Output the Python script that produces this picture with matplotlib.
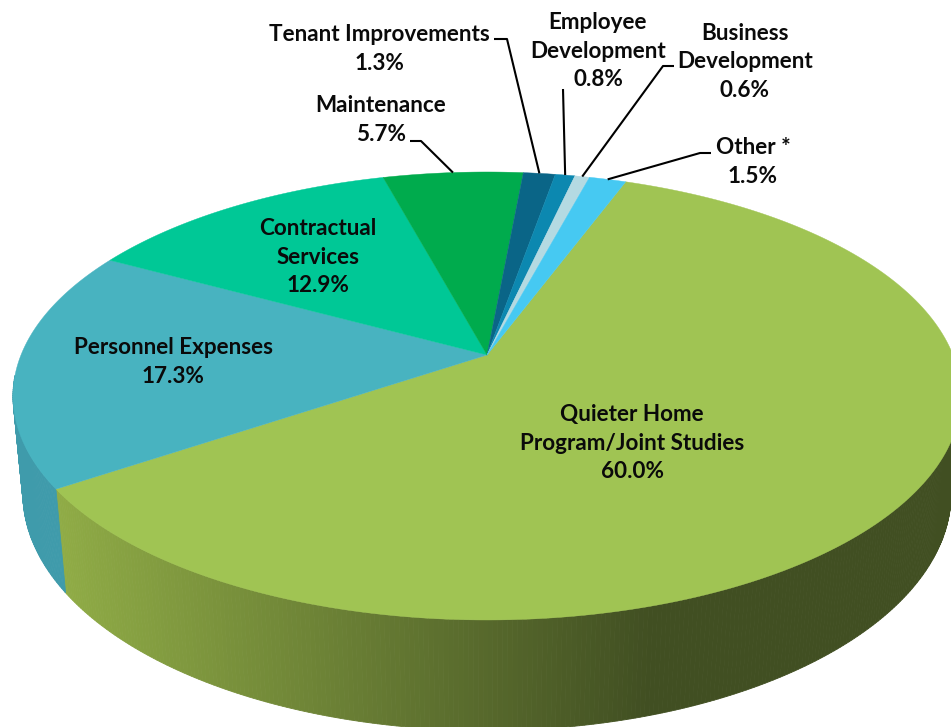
import numpy as np
import matplotlib
matplotlib.use('Agg')
import matplotlib.pyplot as plt
from matplotlib.patches import Polygon
from matplotlib.colors import to_rgb

# slices, clockwise from the first one
names = ['Quieter Home\nProgram/Joint Studies', 'Personnel Expenses', 'Contractual\nServices',
         'Maintenance', 'Tenant Improvements', 'Employee\nDevelopment',
         'Business\nDevelopment', 'Other *']
values = [60.0, 17.3, 12.9, 5.7, 1.3, 0.8, 0.6, 1.5]
colors = ['#a0c453', '#48b3c0', '#00c896', '#00ab4d', '#0a6587', '#0c88b0', '#b4dae2', '#46c9f2']

# label centres in pixels
label_pos = [(632, 443), (173, 362), (318, 257), (381, 120), (379, 49), (598, 51), (745, 62), (753, 162)]

# leader lines: slice index -> elbow, end
leaders = {3: [(421, 141), (410, 141)],
           4: [(507, 39), (494, 39)],
           5: [(563, 89)],
           6: [(663, 66), (674, 66)],
           7: [(700, 153), (711, 153)]}

# pie geometry, fitted to the picture
cx, cy = 487, 355
A, B, k = 466, 216.5, 0.183
drop, m = 98, 0.0206
start = 20.4


def top_xy(a):
    a = np.radians(a)
    w = 1 + k * np.cos(a)
    return cx + A * np.sin(a) / w, cy - B * np.cos(a) / w


def bottom_xy(a):
    a = np.radians(a)
    w = 1 + k * np.cos(a) + m
    return cx + A * np.sin(a) / w, cy + (drop - B * np.cos(a)) / w


def wall_color(i, x):
    if i != 0:
        return np.array(to_rgb('#3f9bab'))
    t = np.clip((x - 55) / (650 - 55), 0, 1)
    return (1 - t) * np.array(to_rgb('#90ac46')) + t * np.array(to_rgb('#414f22'))


fig = plt.figure(figsize=(9.51, 7.27), dpi=100)
ax = fig.add_axes([0, 0, 1, 1])
ax.set_xlim(0, 951)
ax.set_ylim(727, 0)
ax.axis('off')

edges = start + np.cumsum([0] + values) * 360 / sum(values)

# side wall first, the top face covers whatever is at the back
for i in range(len(values)):
    aa = np.arange(edges[i], edges[i + 1] + 0.5, 0.5)
    for a0, a1 in zip(aa[:-1], aa[1:]):
        if np.cos(np.radians(a0)) > -0.1:
            continue
        x0, y0 = top_xy(a0)
        x1, y1 = top_xy(a1)
        x2, y2 = bottom_xy(a1)
        x3, y3 = bottom_xy(a0)
        c = wall_color(i, (x0 + x1) / 2)
        ax.add_patch(Polygon([(x0, y0), (x1, y1), (x2, y2), (x3, y3)], fc=c, ec=c, lw=0.6, zorder=1))

for i in range(len(values)):
    aa = np.linspace(edges[i], edges[i + 1], 200)
    x, y = top_xy(aa)
    pts = [(cx, cy)] + list(zip(x, y))
    ax.add_patch(Polygon(pts, fc=colors[i], ec=colors[i], lw=0.3, zorder=2))

for i, pts in leaders.items():
    x0, y0 = top_xy((edges[i] + edges[i + 1]) / 2)
    xs = [x0] + [p[0] for p in pts]
    ys = [y0] + [p[1] for p in pts]
    ax.plot(xs, ys, color='black', lw=1.5, zorder=3, solid_capstyle='butt')

for i in range(len(values)):
    ax.text(label_pos[i][0], label_pos[i][1], '%s\n%.1f%%' % (names[i], values[i]),
            ha='center', va='center', family='Lato', weight='bold', fontsize=16.2,
            linespacing=1.46, color='#0a0a0a', zorder=4)

fig.savefig('out.png', dpi=100)
